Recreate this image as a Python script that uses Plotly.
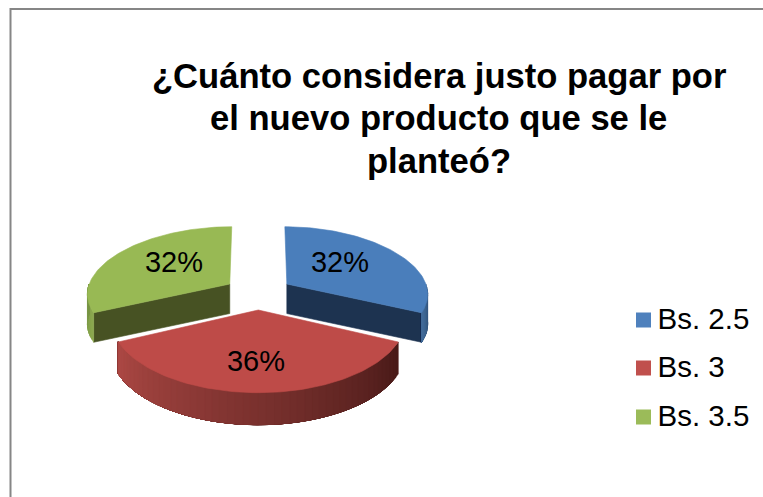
import math
import plotly.graph_objects as go

# Survey results
TITLE_LINES = ["¿Cuánto considera justo pagar por", "el nuevo producto que se le", "planteó?"]
CATEGORIES = ["Bs. 2.5", "Bs. 3", "Bs. 3.5"]
SHARES = [32, 36, 32]

# Slice colours
TOP_COLORS = ["#4a7ebb", "#be4b48", "#98b954"]
CUT_COLORS = ["#1d3350", "#5a1f1d", "#475223"]
WALL_LEFT = [(66, 108, 155), (172, 72, 68), (118, 146, 66)]
WALL_RIGHT = [(38, 66, 100), (72, 26, 24), (140, 170, 80)]
LEGEND_COLORS = ["#4f81bd", "#c0504d", "#9bbb59"]

# Oblique view of the disc, in page pixels
CX, CY = 258.3, 293.1
EXPLODE_X, EXPLODE_Y = 33.8, 16.9
RX = [139.0, 145.4, 140.5]
RX_GROWTH = 0.15
LEAN = [2.0, 0.0, -2.0]
YA = [64.4, 69.5, 64.4]
YB = [7.08, 13.2, 7.08]
DEPTH = [29.5, 32.0, 29.5]

TITLE_X = 438.5
TITLE_Y = [76, 118, 161]
LABEL_XY = [(340, 265), (256, 364), (174, 265)]
LEGEND_Y = [322, 370, 419]
LEGEND_SWATCH_X = 643.5
LEGEND_TEXT_X = 657.5


def polygon(points, color):
    xs = [p[0] for p in points] + [points[0][0]]
    ys = [p[1] for p in points] + [points[0][1]]
    return go.Scatter(x=xs, y=ys, mode="lines", fill="toself", fillcolor=color,
                      line=dict(color=color, width=0.6), hoverinfo="skip",
                      showlegend=False)


def mix(a, b, t):
    return "rgb({},{},{})".format(*[round(a[i] + (b[i] - a[i]) * t) for i in range(3)])


fig = go.Figure()

# Slice angles run clockwise from twelve o'clock and follow the shares
total = sum(SHARES)
spans = []
start = 0.0
for share in SHARES:
    end = start + 2 * math.pi * share / total
    spans.append((start, end))
    start = end

# Rear slices first, the front slice last so it overlaps them
for i in [2, 0, 1]:
    a0, a1 = spans[i]
    mid = (a0 + a1) / 2
    ax = CX + EXPLODE_X * math.sin(mid)
    ay = CY - EXPLODE_Y * math.cos(mid)

    def rim(a, drop=0.0):
        u, c = math.sin(a), -math.cos(a)
        return (ax + RX[i] * u * (1 + RX_GROWTH * c) + LEAN[i] * c,
                ay + YA[i] * c + YB[i] * c * c + drop)

    apex = (ax, ay)
    apex_low = (ax, ay + DEPTH[i])

    # Flat cut faces that look toward the viewer
    if i == 0:
        fig.add_trace(polygon([apex, rim(a1), rim(a1, DEPTH[i]), apex_low], CUT_COLORS[i]))
    if i == 2:
        fig.add_trace(polygon([apex, rim(a0), rim(a0, DEPTH[i]), apex_low], CUT_COLORS[i]))

    # Curved outer wall: painted from one end, each band reaching to the far
    # end so that neighbouring bands leave no seam
    w0, w1 = max(a0, math.pi / 2), min(a1, 3 * math.pi / 2)
    steps = 48 if i == 1 else 10
    n_arc = 12 if i != 1 else 60
    for k in range(steps):
        p = w0 + (w1 - w0) * k / steps
        band = [p + (w1 - p) * j / n_arc for j in range(n_arc + 1)]
        outline = [rim(a) for a in band] + [rim(a, DEPTH[i]) for a in reversed(band)]
        # Clockwise from twelve, so the sweep runs from right to left
        fig.add_trace(polygon(outline, mix(WALL_RIGHT[i], WALL_LEFT[i], (k + 0.5) / steps)))

    # Top face
    n = 80
    top = [apex]
    for k in range(n + 1):
        top.append(rim(a0 + (a1 - a0) * k / n))
    fig.add_trace(polygon(top, TOP_COLORS[i]))

# Percentage labels
fig.add_trace(go.Scatter(
    x=[p[0] for p in LABEL_XY], y=[p[1] for p in LABEL_XY], mode="text",
    text=[f"{v}%" for v in SHARES], textposition="middle center",
    textfont=dict(family="Liberation Sans", size=29, color="#000000"),
    hoverinfo="skip", showlegend=False))

# Legend column on the right
fig.add_trace(go.Scatter(
    x=[LEGEND_SWATCH_X] * 3, y=[y - 2 for y in LEGEND_Y], mode="markers",
    marker=dict(symbol="square", size=15, color=LEGEND_COLORS),
    hoverinfo="skip", showlegend=False))
fig.add_trace(go.Scatter(
    x=[LEGEND_TEXT_X] * 3, y=LEGEND_Y, mode="text",
    text=CATEGORIES, textposition="middle right",
    textfont=dict(family="Liberation Sans", size=29.5, color="#000000"),
    hoverinfo="skip", showlegend=False))

# The heading is set line by line for its tight leading
title_lines = [
    dict(text=line, x=TITLE_X, y=y, xref="x", yref="y", showarrow=False,
         xanchor="center", yanchor="middle",
         font=dict(family="Liberation Sans", size=34.6, color="#000000", weight="bold"))
    for line, y in zip(TITLE_LINES, TITLE_Y)
]

fig.update_layout(
    width=763, height=497, autosize=False,
    margin=dict(l=0, r=0, t=0, b=0),
    paper_bgcolor="#ffffff", plot_bgcolor="#ffffff", showlegend=False,
    xaxis=dict(range=[0, 763], visible=False, fixedrange=True),
    yaxis=dict(range=[497, 0], visible=False, fixedrange=True),
    annotations=title_lines,
    shapes=[
        dict(type="line", xref="x", yref="y", x0=10.5, x1=763, y0=9, y1=9,
             line=dict(color="#868686", width=2)),
        dict(type="line", xref="x", yref="y", x0=10.5, x1=10.5, y0=8, y1=497,
             line=dict(color="#868686", width=2)),
    ],
)

fig.write_html("out.html", config=dict(displayModeBar=False))
